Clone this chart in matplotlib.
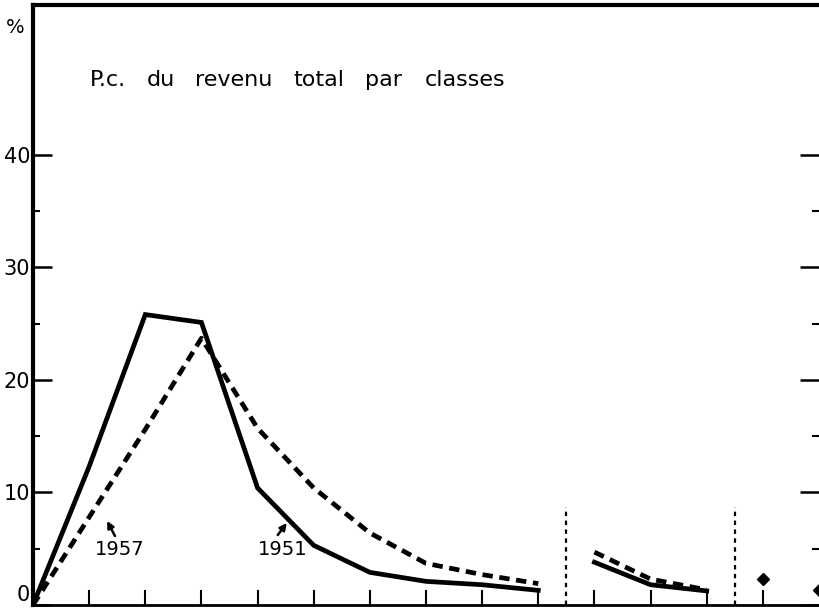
#Income share by class, 1951 vs 1957 (recreated from a scanned figure)
import matplotlib
matplotlib.use("Agg")
import matplotlib.pyplot as plt

# main group of classes
classes = [0, 1, 2, 3, 4, 5, 6, 7, 8, 9]
share_1951 = [0, 12.3, 25.8, 25.1, 10.4, 5.3, 2.9, 2.1, 1.8, 1.3]
share_1957 = [0, 7.8, 15.6, 23.7, 15.7, 10.4, 6.4, 3.7, 2.7, 1.9]

# second group, after the first break
classes_b = [10, 11, 12]
share_1951_b = [3.8, 1.8, 1.25]
share_1957_b = [4.7, 2.3, 1.35]

# isolated points after the second break
classes_c = [13, 14]
share_c = [2.3, 1.3]

breaks = [9.5, 12.5]
break_height = 8.7

yticks_major = [0, 10, 20, 30, 40]
yticks_minor = [5, 15, 25, 35]

title_words = ["P.c.", "du", "revenu", "total", "par", "classes"]
title_x = [1.01, 2.03, 2.88, 4.63, 5.91, 6.98]

fig = plt.figure(figsize=(8.19, 6.11), dpi=100)
ax = fig.add_axes([33/819, 6/611, 1 - 33/819, 600/611])

dash = (0, (2.2, 1.4))
ax.plot(classes, share_1951, color="black", lw=3.4, solid_joinstyle="miter")
ax.plot(classes, share_1957, color="black", lw=3.4, linestyle=dash)
ax.plot(classes_b, share_1951_b, color="black", lw=3.4)
ax.plot(classes_b, share_1957_b, color="black", lw=3.4, linestyle=dash)
ax.plot(classes_c, share_c, "D", color="black", ms=6.5, linestyle="none")

for b in breaks:
    ax.plot([b, b], [0, break_height], color="black", lw=1.6, linestyle=(0, (2, 2)))

# year labels with their little arrows
ax.text(1.54, 4.93, "1957", fontsize=14, ha="center", va="center")
ax.annotate("", xy=(1.32, 7.47), xytext=(1.46, 6.13),
            arrowprops=dict(arrowstyle="-|>", color="black", lw=1.8,
                            shrinkA=0, shrinkB=0, mutation_scale=10))
ax.text(4.44, 4.93, "1951", fontsize=14, ha="center", va="center")
ax.annotate("", xy=(4.52, 7.29), xytext=(4.36, 6.22),
            arrowprops=dict(arrowstyle="-|>", color="black", lw=1.8,
                            shrinkA=0, shrinkB=0, mutation_scale=10))

for word, xw in zip(title_words, title_x):
    ax.text(xw, 46.1, word, fontsize=16, va="baseline", ha="left")
ax.text(-0.31, 51.3, "%", fontsize=14, ha="center", va="center", clip_on=False)

ax.set_xlim(0, 14)
ax.set_ylim(0, 53.3)
ax.set_xticks(range(0, 14))
ax.set_xticklabels([])
ax.set_yticks(yticks_major)
ax.set_yticks(yticks_minor, minor=True)
ax.set_yticklabels([str(v) for v in yticks_major], fontsize=15)
ax.get_yticklabels()[0].set_va("bottom")

ax.tick_params(axis="y", which="major", direction="in", length=14, width=1.8,
               right=True, pad=2)
ax.tick_params(axis="y", which="minor", direction="in", length=5, width=1.5, right=True)
ax.tick_params(axis="x", which="major", direction="in", length=11, width=1.5)

ax.spines["right"].set_visible(False)
ax.spines["left"].set_linewidth(3)
ax.spines["top"].set_linewidth(3)
ax.spines["bottom"].set_linewidth(2)

fig.savefig("out.png", dpi=100)
